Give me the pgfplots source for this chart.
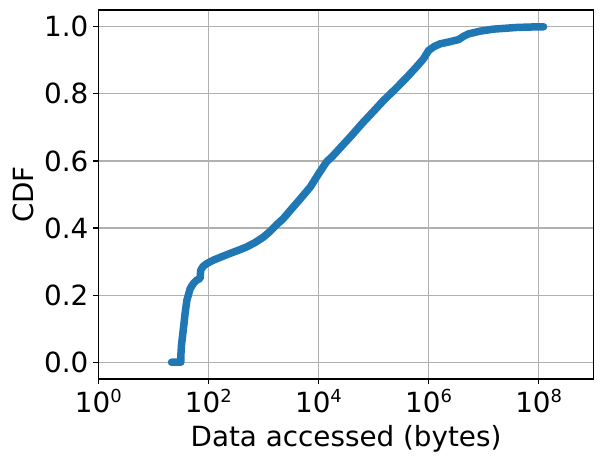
\documentclass[border=0pt]{standalone}
\usepackage{fontspec}
\setmainfont{DejaVu Sans}
\usepackage{pgfplots}
\pgfplotsset{compat=1.18}
\definecolor{mplblue}{HTML}{1F77B4}
\definecolor{gridgray}{HTML}{B0B0B0}
\newcommand\ep[1]{10\raisebox{10bp}{\fontsize{18}{20}\selectfont #1}}
\begin{document}
\begin{tikzpicture}
\useasboundingbox (-98.3bp,-83bp) rectangle (504.7bp,379bp);
\begin{axis}[
  scale only axis,
  width=495.4bp, height=369bp,
  xmode=log,
  xmin=1, xmax=1e9,
  ymin=-0.05, ymax=1.05,
  xtick={1,100,1e4,1e6,1e8},
  xticklabels={\ep{0},\ep{2},\ep{4},\ep{6},\ep{8}},
  minor xtick={},
  ytick={0,0.2,0.4,0.6,0.8,1.0},
  yticklabels={0.0,0.2,0.4,0.6,0.8,1.0},
  tick align=outside,
  tick pos=left,
  major tick length=4.9bp,
  tick style={black, line width=1.1bp},
  grid=major,
  major grid style={gridgray, line width=1.1bp},
  axis line style={black, line width=1.1bp},
  ticklabel style={font=\fontsize{27.9}{33}\selectfont},
  xticklabel style={inner sep=0pt, yshift=-4.9bp},
  yticklabel style={inner sep=0pt, xshift=-4.9bp},
  label style={font=\fontsize{27.9}{33}\selectfont},
  xlabel={Data accessed (bytes)},
  ylabel={CDF},
  xlabel style={at={(axis description cs:0.5,-0.1835)}, anchor=base},
  ylabel style={at={(axis description cs:-0.152,0.5)}, anchor=center},
]
\addplot[mplblue, line width=7.5bp, line cap=round, line join=round] coordinates {
(21.4,0.0) (31.6,0.0) (31.6,0.02) (32.4,0.05) (35.5,0.106) (38.0,0.15)
(40.7,0.185) (46.8,0.22) (53.7,0.235) (61.7,0.245) (70.8,0.25) (72.4,0.274)
(79.4,0.285) (93.3,0.294) (126,0.305) (178,0.315) (245,0.324) (355,0.334)
(501,0.344) (708,0.357) (1000,0.373) (1318,0.39) (1738,0.41) (2291,0.428)
(3162,0.455) (4677,0.487) (7079,0.522) (10000,0.561) (14125,0.598) (18000,0.614)
(25119,0.64) (38019,0.672) (63096,0.713) (100000,0.748) (151356,0.78)
(251189,0.815) (407380,0.85) (630957,0.884) (812831,0.905) (1000000,0.929)
(1258925,0.941) (1621810,0.949) (2511886,0.956) (3548134,0.962) (4265795,0.971)
(5370318,0.979) (8709636,0.987) (15135612,0.993) (40738028,0.998) (100000000,1.0) (123026877,1.0)
};
\end{axis}
\end{tikzpicture}
\end{document}
